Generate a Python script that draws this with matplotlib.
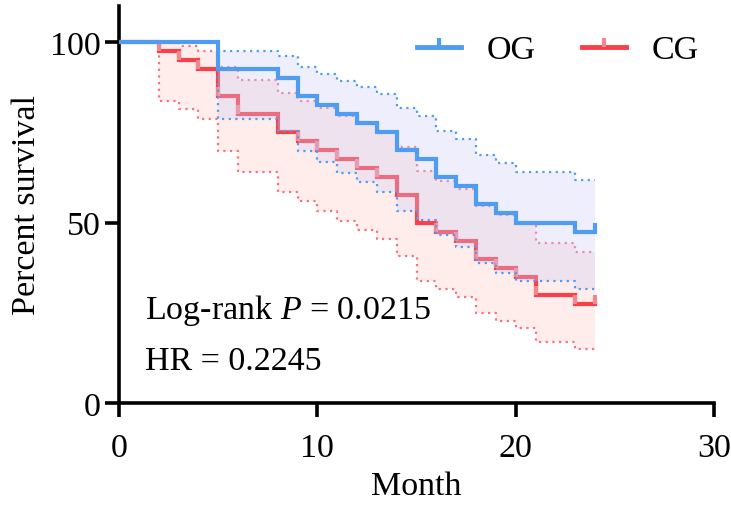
import numpy as np
import matplotlib
matplotlib.use('Agg')
import matplotlib.pyplot as plt
from matplotlib.path import Path
from matplotlib.lines import Line2D

plt.rcParams['font.family'] = ['Liberation Serif', 'DejaVu Serif']
plt.rcParams['mathtext.fontset'] = 'custom'
plt.rcParams['mathtext.rm'] = 'Liberation Serif'
plt.rcParams['mathtext.it'] = 'Liberation Serif:italic'

# OG group (Kaplan-Meier steps, value after each time)
og_time = [0, 5, 8, 9, 10, 11, 12, 13, 14, 15, 16, 17, 18, 19, 20, 23, 24]
og_surv = [100, 92.5, 90, 85, 82.5, 80, 77.5, 75, 70, 67.5, 62.5, 60, 55, 52.5, 50, 47.5, 47.5]
og_upper = [100, 97.4, 96, 93.2, 91.2, 89.3, 87.4, 85.7, 81.6, 79.6, 75.4, 73.1, 68.8, 66.5, 64.1, 61.8, 61.8]
og_lower = [100, 78.7, 75.4, 69.8, 66.7, 63.7, 61.1, 58.5, 53.3, 50.8, 46.5, 43.3, 38.8, 36, 33.7, 31.6, 31.6]
og_cens = [24]

# CG group
cg_time = [0, 2, 3, 4, 5, 6, 8, 9, 10, 11, 12, 13, 14, 15, 16, 17, 18, 19, 20, 21, 23, 24]
cg_surv = [100, 97.5, 95, 92.5, 85, 80, 75, 72.5, 70, 67.5, 65, 62.5, 57.5, 50, 47.5, 45, 40, 37.5, 35, 30, 27.5, 27.5]
cg_upper = [100, 100, 99, 97.4, 93, 89.4, 85.9, 83.7, 81.6, 79.5, 77.3, 75.2, 70.8, 64.2, 61.6, 59.3, 54.6, 52.2, 49.5, 44.4, 41.7, 41.7]
cg_lower = [100, 83.7, 81.4, 78.7, 69.8, 63.9, 58.5, 55.9, 53.1, 50.5, 48, 45.4, 40.8, 33.9, 31.6, 29.3, 24.8, 22.8, 20.7, 16.8, 15, 15]
cg_cens = [2, 3, 4, 5, 6, 9, 10, 11, 12, 13, 16, 17, 18, 19, 20, 21, 23, 24]

blue = '#4F9DF2'
red = '#FA3F48'
red_light = '#F5737E'
red_tick = '#F48690'

tick_marker = Path([(0, 0), (0, 1)], [Path.MOVETO, Path.LINETO])


def surv_at(times, surv, t):
    idx = np.searchsorted(times, t, side='right') - 1
    return np.array(surv)[idx]


fig = plt.figure(figsize=(7.31, 5.06), dpi=100)
ax = fig.add_axes([119 / 731, 102 / 506, 595 / 731, 397.1 / 506])

# CG first (underneath)
ax.fill_between(cg_time, cg_lower, cg_upper, step='post', color='#FFEDEB', lw=0, zorder=1)
ax.step(cg_time, cg_upper, where='post', color=red_light, lw=1.6, ls=(0, (1, 2)), zorder=2)
ax.step(cg_time, cg_lower, where='post', color=red_light, lw=1.6, ls=(0, (1, 2)), zorder=2)
ax.step(cg_time, cg_surv, where='post', color=red, lw=3, zorder=3, solid_joinstyle='miter')
ax.plot(cg_cens, surv_at(cg_time, cg_surv, cg_cens), ls='none', marker=tick_marker,
        markersize=13, markeredgewidth=3, markeredgecolor=red_tick, zorder=3.5)

# OG on top
ax.fill_between(og_time, og_lower, og_upper, step='post', color=(204 / 255, 204 / 255, 246 / 255),
                alpha=0.33, lw=0, zorder=4)
ax.step(og_time, og_upper, where='post', color=blue, lw=1.6, ls=(0, (1, 2)), zorder=5)
ax.step(og_time, og_lower, where='post', color=blue, lw=1.6, ls=(0, (1, 2)), zorder=5)
ax.step(og_time, og_surv, where='post', color=blue, lw=3, zorder=6, solid_joinstyle='miter')
ax.plot(og_cens, surv_at(og_time, og_surv, og_cens), ls='none', marker=tick_marker,
        markersize=13, markeredgewidth=3, markeredgecolor=blue, zorder=6)

ax.set_xlim(0, 30)
ax.set_ylim(0, 110)
ax.set_xticks([0, 10, 20, 30])
ax.set_yticks([0, 50, 100])
for s in ['top', 'right']:
    ax.spines[s].set_visible(False)
for s in ['left', 'bottom']:
    ax.spines[s].set_linewidth(2.6)
ax.tick_params(width=2.6, length=10, labelsize=24.5)
ax.tick_params(axis='x', pad=11)
ax.tick_params(axis='y', pad=3)
ax.set_xlabel('Month', fontsize=24.5, labelpad=6)
ax.set_ylabel('Percent survival', fontsize=24.5, labelpad=6)

ax.text(1.3, 25.8, 'Log-rank $P$ = 0.0215', fontsize=24.5, va='center', ha='left')
ax.text(1.3, 11.6, 'HR = 0.2245', fontsize=24.5, va='center', ha='left')

handles = [
    Line2D([], [], color=blue, lw=3.5, marker=tick_marker, markersize=13,
           markeredgewidth=3, markeredgecolor=blue),
    Line2D([], [], color=red, lw=3.5, marker=tick_marker, markersize=13,
           markeredgewidth=3, markeredgecolor=red_tick),
]
fig.legend(handles, ['OG', 'CG'], ncol=2, frameon=False, fontsize=24.5,
           loc='center right', bbox_to_anchor=(716 / 731, 1 - 51 / 506),
           handlelength=1.3, handletextpad=0.75, columnspacing=1.35, borderpad=0,
           numpoints=1)

fig.savefig('out.png', dpi=100)
